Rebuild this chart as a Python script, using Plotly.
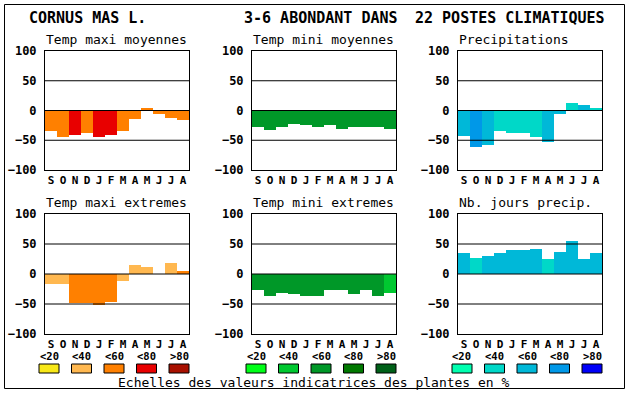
import plotly.graph_objects as go

months = ["S", "O", "N", "D", "J", "F", "M", "A", "M", "J", "J", "A"]
y_ticks = [-100, -50, 0, 50, 100]
scale_labels = ["<20", "<40", "<60", "<80", ">80"]

# palettes (one per column)
warm_colors = ["#F8E818", "#FFB850", "#FF8000", "#E80000", "#A81000"]
green_colors = ["#00FF18", "#00C830", "#009828", "#007800", "#006018"]
blue_colors = ["#00FFB0", "#00D8C8", "#00B8D8", "#0098E8", "#0000F8"]

# series values and class index (0..4) for each bar
tmax_moy = [-35, -44, -41, -37, -44, -42, -34, -14, 4, -6, -12, -16]
tmax_moy_cls = [2, 2, 3, 2, 3, 3, 2, 2, 2, 2, 2, 2]

tmin_moy = [-28, -33, -28, -22, -25, -27, -25, -31, -28, -28, -27, -31]
tmin_moy_cls = [2] * 12

precip = [-43, -61, -58, -35, -37, -38, -45, -53, -6, 13, 10, 5]
precip_cls = [2, 3, 2, 1, 1, 1, 1, 2, 2, 1, 2, 1]

tmax_ext = [-16, -17, -49, -48, -52, -46, -12, 15, 12, 0, 18, 5]
tmax_ext_cls = [1, 1, 2, 2, 2, 2, 1, 1, 1, 1, 1, 2]

tmin_ext = [-27, -37, -31, -34, -37, -36, -27, -27, -34, -27, -36, -31]
tmin_ext_cls = [2, 2, 2, 2, 2, 2, 2, 2, 2, 2, 2, 1]

nb_jours = [35, 27, 30, 35, 40, 40, 42, 25, 37, 55, 25, 35]
nb_jours_cls = [2, 1, 2, 2, 2, 2, 2, 1, 2, 2, 2, 2]

panel_titles = ["Temp maxi moyennes", "Temp mini moyennes", "Precipitations",
                "Temp maxi extremes", "Temp mini extremes", "Nb. jours precip."]
header_texts = ["CORNUS MAS L.", "3-6 ABONDANT DANS", "22 POSTES CLIMATIQUES"]
footer_text = "Echelles des valeurs indicatrices des plantes en %"

W, H = 630, 394
MONO = "DejaVu Sans Mono"


def px_x(p):
    return p / W


def px_y(p):
    return 1 - p / H


col_px = [(45, 189), (252, 396), (458, 602)]
row_px = [(51, 170), (214, 334)]

panels = [
    (tmax_moy, tmax_moy_cls, warm_colors),
    (tmin_moy, tmin_moy_cls, green_colors),
    (precip, precip_cls, blue_colors),
    (tmax_ext, tmax_ext_cls, warm_colors),
    (tmin_ext, tmin_ext_cls, green_colors),
    (nb_jours, nb_jours_cls, blue_colors),
]

fig = go.Figure()
shapes = []
annotations = []
layout_axes = {}

for i, (vals, cls, pal) in enumerate(panels):
    r, c = divmod(i, 3)
    n = i + 1
    xa = "x" if n == 1 else f"x{n}"
    ya = "y" if n == 1 else f"y{n}"
    fig.add_trace(go.Bar(
        x=list(range(len(months))), y=vals,
        marker=dict(color=[pal[k] for k in cls], line=dict(width=0)),
        xaxis=xa, yaxis=ya, showlegend=False, hoverinfo="skip",
    ))
    x0, x1 = col_px[c]
    y0, y1 = row_px[r]
    layout_axes["xaxis" if n == 1 else f"xaxis{n}"] = dict(
        domain=[px_x(x0), px_x(x1)], anchor=ya, automargin=False,
        range=[-0.5, 11.5], tickmode="array",
        tickvals=list(range(len(months))), ticktext=months,
        showgrid=False, zeroline=False, showline=True, mirror=True,
        linecolor="black", linewidth=1, ticks="", ticklabelstandoff=0,
        tickfont=dict(family=MONO, size=11, color="black", weight="bold"),
        fixedrange=True,
    )
    layout_axes["yaxis" if n == 1 else f"yaxis{n}"] = dict(
        domain=[px_y(y1), px_y(y0)], anchor=xa, automargin=False,
        range=[-100, 100], tickmode="array", tickvals=y_ticks,
        showgrid=False, zeroline=False, showline=True, mirror=True,
        linecolor="black", linewidth=1, ticks="", ticklabelstandoff=5,
        tickfont=dict(family=MONO, size=12, color="black", weight="bold"),
        fixedrange=True,
    )
    for g in (-50, 0, 50):
        shapes.append(dict(type="line", xref=f"{xa} domain", yref=ya,
                           x0=0, x1=1, y0=g, y1=g,
                           line=dict(color="black", width=1), layer="above"))
    annotations.append(dict(
        text=panel_titles[i], xref="paper", yref="paper",
        x=px_x(x0 - 1), y=px_y(y0 - 12), xanchor="left", yanchor="middle",
        showarrow=False, font=dict(family=MONO, size=13, color="black")))

    # scale legend for the bottom row
    if r == 1:
        for k in range(5):
            bx0 = x0 - 6 + k * 32.5
            shapes.append(dict(type="rect", xref="paper", yref="paper",
                               x0=px_x(bx0), x1=px_x(bx0 + 20),
                               y0=px_y(373), y1=px_y(364),
                               fillcolor=pal[k],
                               line=dict(color="black", width=1)))
            annotations.append(dict(
                text=scale_labels[k], xref="paper", yref="paper",
                x=px_x(bx0 + 10), y=px_y(356), xanchor="center",
                yanchor="middle", showarrow=False,
                font=dict(family=MONO, size=10.5, color="black",
                          weight="bold")))

# header
header_x = [27, 242, 413]
for t, hx in zip(header_texts, header_x):
    annotations.append(dict(
        text=t, xref="paper", yref="paper", x=px_x(hx), y=px_y(18),
        xanchor="left", yanchor="middle", showarrow=False,
        font=dict(family=MONO, size=15, color="black", weight="bold")))

annotations.append(dict(
    text=footer_text, xref="paper", yref="paper", x=px_x(314), y=px_y(382),
    xanchor="center", yanchor="middle", showarrow=False,
    font=dict(family=MONO, size=13, color="black")))

# outer frame
shapes.append(dict(type="rect", xref="paper", yref="paper",
                   x0=px_x(4.5), x1=px_x(624.5), y0=px_y(388.5), y1=px_y(4.5),
                   line=dict(color="black", width=1), fillcolor="rgba(0,0,0,0)",
                   layer="below"))

fig.update_layout(
    width=W, height=H, margin=dict(l=0, r=0, t=0, b=0, autoexpand=False),
    paper_bgcolor="white", plot_bgcolor="white",
    bargap=0, shapes=shapes, annotations=annotations,
    **layout_axes,
)

fig.write_html(
    "out.html",
    config={"displayModeBar": False},
    post_script="document.body.style.margin='0';document.body.style.overflow='hidden';",
)
